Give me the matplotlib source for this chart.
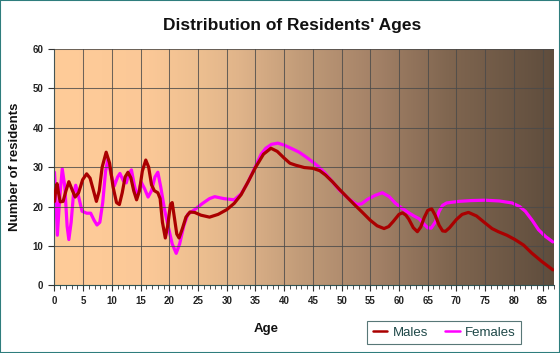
import numpy as np
import matplotlib
matplotlib.use("Agg")
import matplotlib.pyplot as plt
from matplotlib.colors import LinearSegmentedColormap
from matplotlib.patches import Rectangle

# values (age, number of residents)
male_ages = [0, 0.2, 0.45, 0.7, 1.0, 1.5, 2.0, 2.5, 3.0, 3.6, 4.2, 4.9, 5.6, 6.2, 6.8, 7.3,
             7.8, 8.3, 9.0, 9.6, 10.2, 10.8, 11.3, 11.8, 12.3, 12.8, 13.3, 13.8, 14.3, 14.8,
             15.3, 15.9, 16.4, 16.9, 17.4, 18.0, 18.4, 18.8, 19.3, 19.7, 20.2, 20.5, 20.9,
             21.3, 21.7, 22.3, 22.9, 23.6, 24.4, 25.5, 27, 28.5, 30, 31.3, 32.5, 33.8, 35,
             36.4, 37.7, 38.8, 40, 41, 42, 43.5, 45, 46.2, 47.2, 48.4, 49.6, 51, 52.3, 53.7,
             55, 56.2, 57.4, 58.2, 59, 60, 60.6, 61.2, 61.7, 62.5, 63.2, 63.8, 64.4, 65.0,
             65.7, 66.3, 67.0, 67.6, 68.1, 68.8, 70, 71, 72.1, 73.5, 75, 76.2, 77.3, 78.8,
             80.2, 81.7, 83.1, 84.9, 86.8]
males = [21.3, 24.0, 25.8, 23.5, 21.2, 21.3, 24.0, 26.3, 24.5, 22.4, 23.5, 26.8, 28.3, 27.2,
         24.0, 21.3, 24.0, 30.0, 33.8, 31.0, 25.0, 21.0, 20.5, 23.5, 27.5, 28.7, 27.3, 24.0,
         21.7, 24.0, 29.0, 31.8, 30.0, 25.5, 24.0, 23.5, 22.0, 16.0, 12.0, 15.0, 20.5, 21.0,
         17.0, 13.0, 12.0, 14.5, 17.3, 18.6, 18.5, 17.8, 17.3, 18.0, 19.2, 20.8, 23.0, 26.5,
         29.9, 33.3, 34.8, 34.0, 32.3, 31.0, 30.5, 29.9, 29.7, 29.1, 28.0, 26.3, 24.4, 22.3,
         20.4, 18.4, 16.5, 15.1, 14.4, 14.9, 16.2, 18.0, 18.4, 17.8, 16.8, 14.6, 13.6, 14.8,
         17.2, 19.0, 19.4, 17.8, 15.2, 13.8, 13.7, 14.6, 16.7, 18.0, 18.5, 17.6, 15.8, 14.4,
         13.6, 12.7, 11.6, 10.2, 8.2, 6.0, 3.9]

female_ages = [0, 0.25, 0.5, 0.9, 1.35, 1.8, 2.2, 2.5, 2.9, 3.3, 3.7, 4.2, 4.8, 5.6, 6.3, 6.9,
               7.4, 7.9, 8.4, 8.9, 9.3, 9.8, 10.4, 11.0, 11.4, 12.0, 12.5, 13.0, 13.4, 13.9,
               14.3, 14.7, 15.1, 15.7, 16.3, 16.9, 17.5, 18.0, 18.5, 19.2, 19.8, 20.5, 21.2,
               21.8, 22.5, 23.2, 24.4, 25.8, 27.0, 27.9, 29.5, 31.3, 32.5, 33.6, 35, 36.0,
               36.8, 37.8, 38.9, 40, 41.2, 42.6, 43.8, 44.9, 46, 47.1, 48.4, 49.6, 51.2, 52.7,
               53.5, 54.5, 55.8, 57.1, 58.3, 59.4, 60.5, 61.7, 62.6, 63.5, 64.3, 65.0, 65.6,
               66.3, 67.0, 67.6, 68.3, 70.4, 72.5, 75, 77.5, 79.7, 81, 82, 83.2, 84.3, 85.5,
               86.8]
females = [28.7, 22.0, 12.7, 22.0, 29.6, 25.0, 15.0, 11.6, 16.0, 23.0, 25.4, 22.5, 18.8, 18.3,
           18.3, 16.5, 15.3, 16.0, 21.0, 29.0, 32.0, 28.5, 25.2, 27.5, 28.4, 26.5, 26.0, 28.5,
           29.3, 25.5, 23.0, 24.0, 26.2, 24.5, 22.4, 24.0, 27.5, 28.7, 25.0, 19.0, 15.0, 10.5,
           8.1, 10.5, 15.0, 18.0, 19.2, 20.8, 22.0, 22.5, 22.0, 21.7, 23.2, 25.9, 30.2, 33.3,
           34.8, 35.8, 36.1, 35.6, 34.8, 33.8, 32.6, 31.4, 30.1, 28.5, 26.3, 24.2, 22.0, 20.5,
           20.7, 21.8, 22.8, 23.5, 22.5, 20.8, 19.6, 18.4, 17.6, 16.9, 15.6, 14.6, 14.5, 16.0,
           18.8, 20.3, 20.9, 21.3, 21.5, 21.6, 21.4, 20.9, 20.0, 18.8, 16.5, 14.1, 12.4, 11.0]

x_ticks = list(range(0, 90, 5))
y_ticks = list(range(0, 70, 10))

fig = plt.figure(figsize=(5.6, 3.53), dpi=100)
fig.patch.set_facecolor("white")
ax = fig.add_axes([0.0973, 0.192, 0.892, 0.669])

# background gradient, light peach on the left to dark brown on the right
bg = LinearSegmentedColormap.from_list("bg", [
    (0.0, "#FFCC99"), (0.19, "#FBC897"), (0.29, "#EDBF90"), (0.37, "#E0B48A"),
    (0.49, "#C29C79"), (0.65, "#A28066"), (0.79, "#806650"), (1.0, "#5F4D3D")])
ax.imshow(np.linspace(0, 1, 256).reshape(1, -1), cmap=bg, aspect="auto",
          extent=[0, 87, 0, 60], zorder=0)

ax.plot(male_ages, males, color="#AA0000", lw=2.3, solid_joinstyle="round",
        solid_capstyle="round", label="Males", zorder=3)
ax.plot(female_ages, females, color="#FF00FF", lw=2.3, solid_joinstyle="round",
        solid_capstyle="round", label="Females", zorder=2)

ax.set_xlim(0, 87)
ax.set_ylim(0, 60)
ax.set_xticks(x_ticks)
ax.set_xticks(range(0, 88), minor=True)
ax.set_yticks(y_ticks)
ax.grid(True, which="major", color="#4A4A4A", lw=0.75, alpha=0.8, zorder=1)
ax.set_axisbelow(False)
for s in ["top", "right"]:
    ax.spines[s].set_visible(False)
ax.spines["left"].set_color("#2E7D7D")
ax.spines["bottom"].set_color("#2E5555")
ax.tick_params(axis="both", which="major", length=4, width=0.8, color="#333333",
               labelsize=7, pad=4)
ax.tick_params(axis="x", which="minor", length=3, width=0.6, color="#333333")
for lab in ax.get_xticklabels() + ax.get_yticklabels():
    lab.set_fontfamily("Liberation Sans")
    lab.set_fontweight("bold")
    lab.set_color("#222222")

fig.text(0.521, 0.928, "Distribution of Residents' Ages", ha="center", va="center",
         fontsize=12.5, fontweight="bold", family="Liberation Sans", color="#111111")
fig.text(0.475, 0.068, "Age", ha="center", va="center", fontsize=9.5,
         fontweight="bold", family="Liberation Sans", color="#111111")
fig.text(0.027, 0.527, "Number of residents", ha="center", va="center", rotation=90,
         fontsize=9.5, fontweight="bold", family="Liberation Sans", color="#111111")

leg = ax.legend(loc="center", bbox_to_anchor=(0.78, -0.2), ncol=2, frameon=True,
                fancybox=False, handlelength=1.1, handletextpad=0.4,
                columnspacing=1.3, borderpad=0.4,
                prop={"family": "Liberation Sans", "size": 9.5})
leg.get_frame().set_edgecolor("#2E5555")
leg.get_frame().set_linewidth(0.8)
for line in leg.get_lines():
    line.set_linewidth(1.8)
for t in leg.get_texts():
    t.set_color("#1E4848")

fig.patches.append(Rectangle((0, 0), 1, 1, transform=fig.transFigure, fill=False,
                             edgecolor="#2E7D7D", lw=1.5))

fig.savefig("out.png", dpi=100)
